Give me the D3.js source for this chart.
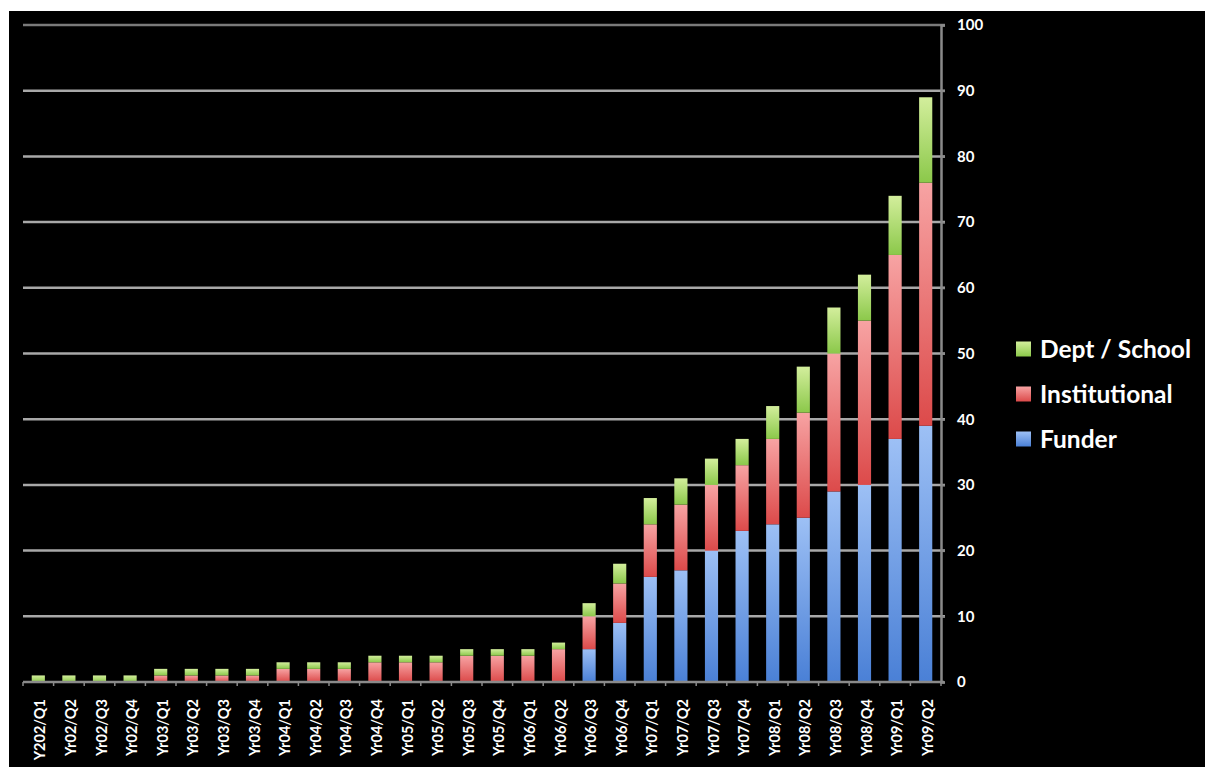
<!DOCTYPE html>
<html>
<head>
<meta charset="UTF-8">
<style>
body { margin: 0; background: #fff; }
.tick text { fill: #fff; }
</style>
</head>
<body>
<svg class="chart" width="1205" height="767"></svg>
<script src="https://d3js.org/d3.v7.min.js"></script>
<script>

// Data
var quarters = ["Y202/Q1","Yr02/Q2","Yr02/Q3","Yr02/Q4",
  "Yr03/Q1","Yr03/Q2","Yr03/Q3","Yr03/Q4",
  "Yr04/Q1","Yr04/Q2","Yr04/Q3","Yr04/Q4",
  "Yr05/Q1","Yr05/Q2","Yr05/Q3","Yr05/Q4",
  "Yr06/Q1","Yr06/Q2","Yr06/Q3","Yr06/Q4",
  "Yr07/Q1","Yr07/Q2","Yr07/Q3","Yr07/Q4",
  "Yr08/Q1","Yr08/Q2","Yr08/Q3","Yr08/Q4",
  "Yr09/Q1","Yr09/Q2"];
var funder        = [0,0,0,0, 0,0,0,0, 0,0,0,0, 0,0,0,0, 0,0,5,9, 16,17,20,23, 24,25,29,30, 37,39];
var institutional = [0,0,0,0, 1,1,1,1, 2,2,2,3, 3,3,4,4, 4,5,5,6, 8,10,10,10, 13,16,21,25, 28,37];
var deptSchool    = [1,1,1,1, 1,1,1,1, 1,1,1,1, 1,1,1,1, 1,1,2,3, 4,4,4,4, 5,7,7,7, 9,13];
var yTicks = [0,10,20,30,40,50,60,70,80,90,100];

var seriesKeys = ["funder", "institutional", "deptSchool"];
var seriesNames = {funder: "Funder", institutional: "Institutional", deptSchool: "Dept / School"};
var gradStops = {
  funder: ["#9dc0f5", "#4a80d6"],
  institutional: ["#f7a3a3", "#dc4a4a"],
  deptSchool: ["#d3ee9c", "#8bc84a"]
};

var table = quarters.map(function(q, i) {
  return {q: q, funder: funder[i], institutional: institutional[i], deptSchool: deptSchool[i]};
});

var margin = {left: 23, right: 941, top: 25, bottom: 682};

var svg = d3.select(".chart");

// black slide background
svg.append("rect").attr("x", 9).attr("y", 11).attr("width", 1196).attr("height", 756).attr("fill", "#000");

var defs = svg.append("defs");
seriesKeys.forEach(function(k) {
  var g = defs.append("linearGradient").attr("id", "g_" + k)
    .attr("x1", 0).attr("y1", 0).attr("x2", 0).attr("y2", 1);
  g.append("stop").attr("offset", "0%").attr("stop-color", gradStops[k][0]);
  g.append("stop").attr("offset", "100%").attr("stop-color", gradStops[k][1]);
});

var x = d3.scaleBand().domain(quarters).range([margin.left, margin.right]).paddingInner(0.57).paddingOuter(0.285);
var y = d3.scaleLinear().domain([0, 100]).range([margin.bottom, margin.top]);

// gridlines
svg.append("g").selectAll("line").data(yTicks.slice(1)).enter().append("line")
  .attr("x1", margin.left).attr("x2", margin.right + 4)
  .attr("y1", function(d) { return y(d); }).attr("y2", function(d) { return y(d); })
  .attr("stroke", function(d) { return d == 100 ? "#7a7a7a" : "#a8a8a8"; })
  .attr("stroke-width", 2.5);

// stacked bars
var stack = d3.stack().keys(seriesKeys)(table);
svg.append("g").selectAll("g").data(stack).enter().append("g")
  .attr("fill", function(d) { return "url(#g_" + d.key + ")"; })
  .selectAll("rect").data(function(d) { return d; }).enter().append("rect")
  .attr("x", function(d) { return x(d.data.q); })
  .attr("width", x.bandwidth())
  .attr("y", function(d) { return y(d[1]); })
  .attr("height", function(d) { return y(d[0]) - y(d[1]); });

// right axis
var yAxis = svg.append("g").attr("transform", "translate(" + margin.right + ",0)")
  .call(d3.axisRight(y).tickValues(yTicks).tickSize(4).tickPadding(12));
yAxis.select(".domain").attr("stroke", "#8a8a8a").attr("stroke-width", 2.5);
yAxis.selectAll(".tick line").attr("stroke", "#8a8a8a").attr("stroke-width", 2);
yAxis.selectAll(".tick text")
  .style("font-family", "Lato, 'Open Sans', sans-serif")
  .style("font-weight", "bold")
  .style("font-size", "15px");

// bottom axis line + ticks at band boundaries
var xg = svg.append("g");
xg.append("line").attr("x1", margin.left).attr("x2", margin.right + 3)
  .attr("y1", margin.bottom).attr("y2", margin.bottom)
  .attr("stroke", "#8a8a8a").attr("stroke-width", 2.5);
var step = x.step();
xg.selectAll("line.t").data(quarters.concat(["end"])).enter().append("line")
  .attr("class", "t")
  .attr("x1", function(d, i) { return margin.left + i * step; })
  .attr("x2", function(d, i) { return margin.left + i * step; })
  .attr("y1", margin.bottom).attr("y2", margin.bottom + 4)
  .attr("stroke", "#8a8a8a").attr("stroke-width", 1.5);

xg.selectAll("text").data(quarters).enter().append("text")
  .attr("transform", function(d) {
    return "translate(" + (x(d) + x.bandwidth() / 2 + 2) + "," + (margin.bottom + 17) + ") rotate(-90)";
  })
  .attr("dy", "0.35em")
  .attr("text-anchor", "end")
  .attr("fill", "#fff")
  .style("font-family", "Lato, 'Open Sans', sans-serif")
  .style("font-weight", "bold")
  .style("font-size", "14.5px")
  .text(function(d) { return d; });

// legend
var legendOrder = ["deptSchool", "institutional", "funder"];
var lg = svg.append("g").selectAll("g").data(legendOrder).enter().append("g")
  .attr("transform", function(d, i) { return "translate(1016," + (349 + i * 45) + ")"; });
lg.append("rect").attr("x", 0).attr("y", -7.5).attr("width", 15).attr("height", 15)
  .attr("fill", function(d) { return "url(#g_" + d + ")"; });
lg.append("text").attr("x", 24).attr("dy", "0.36em").attr("fill", "#fff")
  .style("font-family", "Lato, 'Open Sans', sans-serif")
  .style("font-weight", "bold")
  .style("font-size", "24.5px")
  .text(function(d) { return seriesNames[d]; });

</script>
</body>
</html>
